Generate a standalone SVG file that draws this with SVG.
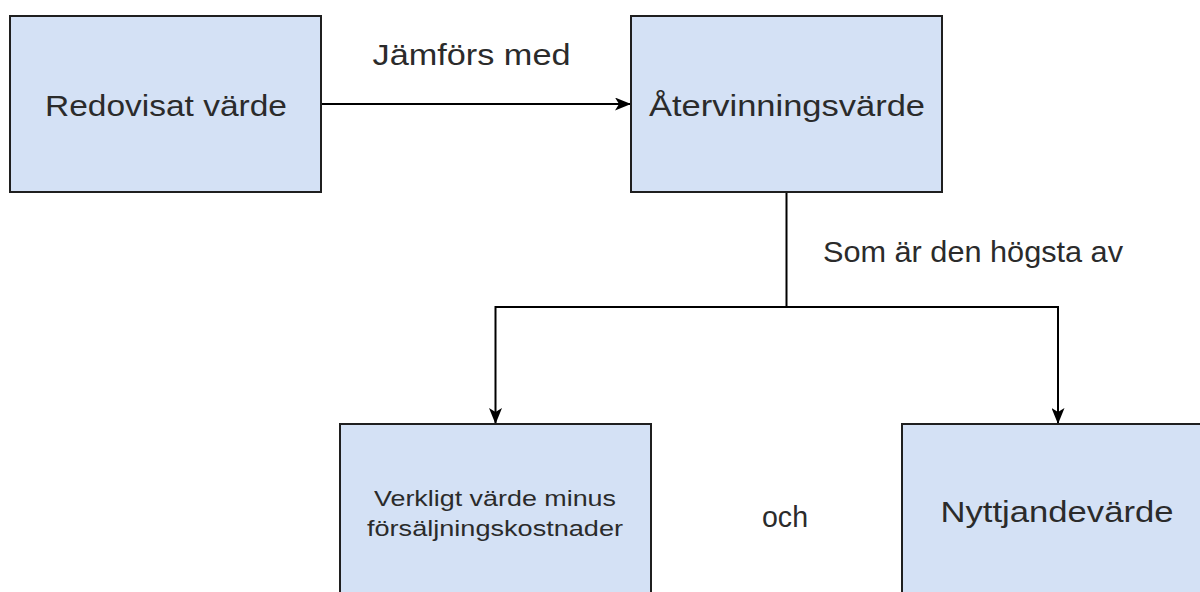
<svg xmlns="http://www.w3.org/2000/svg" width="1200" height="592" viewBox="0 0 1200 592">
  <style>
    .box { fill: #d4e1f5; stroke: #1f1f1f; stroke-width: 2; }
    .t { font-family: "Liberation Sans", Arial, sans-serif; fill: #2b2b2b; text-anchor: middle; }
    .big { font-size: 30px; }
    .small { font-size: 22px; }
    .edge { fill: none; stroke: #000; stroke-width: 2; }
  </style>
  <defs>
    <marker id="arr" viewBox="0 0 16 13" refX="15" refY="6.5" markerWidth="16" markerHeight="13" markerUnits="userSpaceOnUse" orient="auto">
      <path d="M0,0 L16,6.5 L0,13 L4,6.5 Z" fill="#000"/>
    </marker>
  </defs>
  <rect width="1200" height="592" fill="#fff"/>
  <g id="connectors">
    <path class="edge" d="M321,104 H630" marker-end="url(#arr)"/>
    <path class="edge" d="M786.5,192 V307 H495.5 V423" marker-end="url(#arr)"/>
    <path class="edge" d="M786.5,307 H1058 V423" marker-end="url(#arr)"/>
    <text class="t big" x="471.5" y="65" textLength="198" lengthAdjust="spacingAndGlyphs">Jämförs med</text>
    <text class="t big" x="973" y="261.5" textLength="300" lengthAdjust="spacingAndGlyphs">Som är den högsta av</text>
  </g>
  <g id="redovisat">
    <rect class="box" x="10" y="16" width="311" height="176"/>
    <text class="t big" x="166" y="116" textLength="242" lengthAdjust="spacingAndGlyphs">Redovisat värde</text>
  </g>
  <g id="atervinning">
    <rect class="box" x="631" y="16" width="311" height="176"/>
    <text class="t big" x="787" y="115.5" textLength="276" lengthAdjust="spacingAndGlyphs">Återvinningsvärde</text>
  </g>
  <g id="verkligt">
    <rect class="box" x="340" y="424" width="311" height="176"/>
    <text class="t small" x="495" y="506" textLength="242" lengthAdjust="spacingAndGlyphs">Verkligt värde minus</text>
    <text class="t small" x="495" y="536" textLength="256" lengthAdjust="spacingAndGlyphs">försäljningskostnader</text>
  </g>
  <g id="och">
    <text class="t big" x="785" y="527" textLength="46" lengthAdjust="spacingAndGlyphs">och</text>
  </g>
  <g id="nyttjande">
    <rect class="box" x="902" y="424" width="312" height="176"/>
    <text class="t big" x="1057" y="521.5" textLength="233" lengthAdjust="spacingAndGlyphs">Nyttjandevärde</text>
  </g>
</svg>
